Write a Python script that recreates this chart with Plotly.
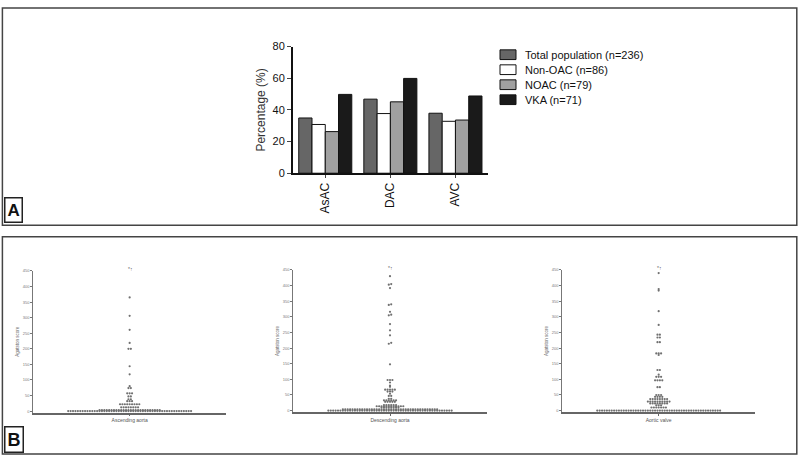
import numpy as np
import plotly.graph_objects as go

# ---- panel A: percentages per group ----
categories = ["AsAC", "DAC", "AVC"]
total_population = [34.9, 46.8, 37.9]
non_oac = [30.8, 37.7, 32.8]
noac = [26.3, 45.1, 33.6]
vka = [49.8, 59.9, 48.8]

# ---- panel B: Agatston scores (value, how many patients) ----
asc_values = [0, 3, 12, 22, 32, 38, 47, 57, 74, 80, 118, 144, 200, 219, 261, 306, 365]
asc_counts = [52, 26, 8, 9, 3, 2, 2, 3, 2, 1, 1, 1, 2, 1, 1, 1, 1]

desc_values = [0, 4, 10, 14, 18, 28, 33, 38, 47, 54, 61, 67, 76, 80, 90, 98,
               148, 214, 217, 241, 257, 277, 305, 307, 316, 338, 340, 392, 403, 405, 430]
desc_counts = [52, 40, 8, 12, 6, 5, 6, 2, 2, 1, 3, 5, 1, 1, 1, 3,
               1, 1, 1, 1, 1, 1, 1, 1, 1, 1, 1, 1, 1, 1, 1]

valve_values = [0, 10, 17, 23, 29, 37, 44, 50, 75, 97, 108, 115, 130, 178, 183,
                219, 234, 243, 274, 318, 384, 389, 440]
valve_counts = [52, 7, 3, 8, 10, 8, 4, 3, 2, 4, 3, 1, 2, 1, 3,
                2, 2, 2, 1, 1, 1, 1, 1]

panel_b_names = ["Ascending aorta", "Descending aorta", "Aortic valve"]
score_ticks = [0, 50, 100, 150, 200, 250, 300, 350, 400, 450]


def swarm(values, counts, row_h=5, dx=0.025):
    """Prism-like scatter: points binned into rows, each row centred."""
    vals = np.sort(np.repeat(values, counts).astype(float))
    rows = np.floor(vals / row_h + 0.5).astype(int)
    xs = np.zeros_like(vals)
    for r in np.unique(rows):
        idx = np.where(rows == r)[0]
        xs[idx] = (np.arange(len(idx)) - (len(idx) - 1) / 2) * dx
    return xs, vals


FONT = "Liberation Sans, Arial, sans-serif"
fig = go.Figure()

bar_styles = [
    ("Total population (n=236)", total_population, "#666666"),
    ("Non-OAC (n=86)", non_oac, "#ffffff"),
    ("NOAC (n=79)", noac, "#a0a0a0"),
    ("VKA (n=71)", vka, "#1a1a1a"),
]
for name, vals, col in bar_styles:
    fig.add_trace(go.Bar(x=categories, y=vals, name=name, marker_color=col,
                         marker_line=dict(color="#111111", width=1),
                         xaxis="x", yaxis="y", showlegend=False))

datasets = [(asc_values, asc_counts), (desc_values, desc_counts), (valve_values, valve_counts)]
for i, (v, c) in enumerate(datasets):
    xs, ys = swarm(v, c)
    fig.add_trace(go.Scatter(x=xs, y=ys, mode="markers", showlegend=False,
                             marker=dict(size=2.2, color="#707070"),
                             xaxis=f"x{i + 2}", yaxis=f"y{i + 2}", cliponaxis=False))

layout = dict(
    width=800, height=463, margin=dict(l=0, r=0, t=0, b=0),
    paper_bgcolor="white", plot_bgcolor="white",
    font=dict(family=FONT, color="#111111"),
    barmode="group", bargap=0.185, bargroupgap=0,
    xaxis=dict(domain=[0.3659, 0.61], anchor="y", range=[-0.5, 2.5],
               showline=True, linecolor="#111111", linewidth=1.5,
               ticks="outside", ticklen=3, tickangle=-90,
               tickfont=dict(size=12), showgrid=False),
    yaxis=dict(domain=[0.6292, 0.91], anchor="x", range=[0, 80],
               tickvals=[0, 20, 40, 60, 80], showline=True, linecolor="#111111",
               linewidth=1.5, ticks="outside", ticklen=4, tickfont=dict(size=11),
               showgrid=False, zeroline=False,
               title=dict(text="Percentage (%)", font=dict(size=12, color="#333333"),
                          standoff=4)),
)

b_x_domains = [[0.0416, 0.2825], [0.3666, 0.6084], [0.7029, 0.9438]]
b_y_domains = [[0.0983, 0.4125], [0.0994, 0.4147], [0.0994, 0.4147]]
for i in range(3):
    layout[f"xaxis{i + 2}"] = dict(
        domain=b_x_domains[i], anchor=f"y{i + 2}", range=[-1, 1],
        showline=True, linecolor="#666666", linewidth=1.5, showgrid=False,
        zeroline=False, tickvals=[0], ticktext=[panel_b_names[i]],
        ticks="outside", ticklen=2, tickcolor="#666666",
        tickfont=dict(size=5, color="#555555"))
    layout[f"yaxis{i + 2}"] = dict(
        domain=b_y_domains[i], anchor=f"x{i + 2}", range=[-5, 450],
        tickvals=score_ticks, showline=True, linecolor="#777777", linewidth=1,
        ticks="outside", ticklen=2, tickcolor="#777777", showgrid=False,
        zeroline=False, tickfont=dict(size=4, color="#777777"),
        title=dict(text="Agatston score", font=dict(size=4.5, color="#666666"),
                   standoff=3))
fig.update_layout(**layout)

annotations = []
shapes = []
# legend for panel A, drawn by hand to match the tight row spacing
for k, (name, _, col) in enumerate(bar_styles):
    top = 45 + 15.4 * k
    shapes.append(dict(type="rect", xref="paper", yref="paper",
                       x0=500 / 800, x1=516 / 800, y0=1 - (top + 10) / 463, y1=1 - top / 463,
                       fillcolor=col, line=dict(color="#111111", width=1)))
    annotations.append(dict(text=name, x=523 / 800, y=1 - (top + 5) / 463, xref="paper",
                            yref="paper", xanchor="left", yanchor="middle", showarrow=False,
                            font=dict(size=11, color="#111111")))

for i in range(3):
    annotations.append(dict(text="*↑", x=0, y=1.05, xref=f"x{i + 2}",
                            yref=f"y{i + 2} domain", showarrow=False,
                            font=dict(size=5, color="#666666")))
annotations.append(dict(text="<b>A</b>", x=0.005, y=1 - 223 / 463, xref="paper",
                        yref="paper", xanchor="left", yanchor="bottom", showarrow=False,
                        font=dict(size=17, color="#111111"),
                        bordercolor="#222222", borderwidth=1.5, borderpad=2))
annotations.append(dict(text="<b>B</b>", x=0.005, y=1 - 459 / 463, xref="paper",
                        yref="paper", xanchor="left", yanchor="bottom", showarrow=False,
                        font=dict(size=18, color="#111111"),
                        bordercolor="#222222", borderwidth=1.5, borderpad=2))

shapes.append(dict(type="rect", xref="paper", yref="paper", x0=0.003, x1=0.996,
                   y0=1 - 225 / 463, y1=1 - 2 / 463, line=dict(color="#444444", width=1.5)))
shapes.append(dict(type="rect", xref="paper", yref="paper", x0=0.003, x1=0.996,
                   y0=1 - 460 / 463, y1=1 - 237 / 463, line=dict(color="#444444", width=1.5)))
fig.update_layout(annotations=annotations, shapes=shapes)

fig.write_html("out.html", post_script="document.body.style.margin='0';",
               config={"displayModeBar": False})
